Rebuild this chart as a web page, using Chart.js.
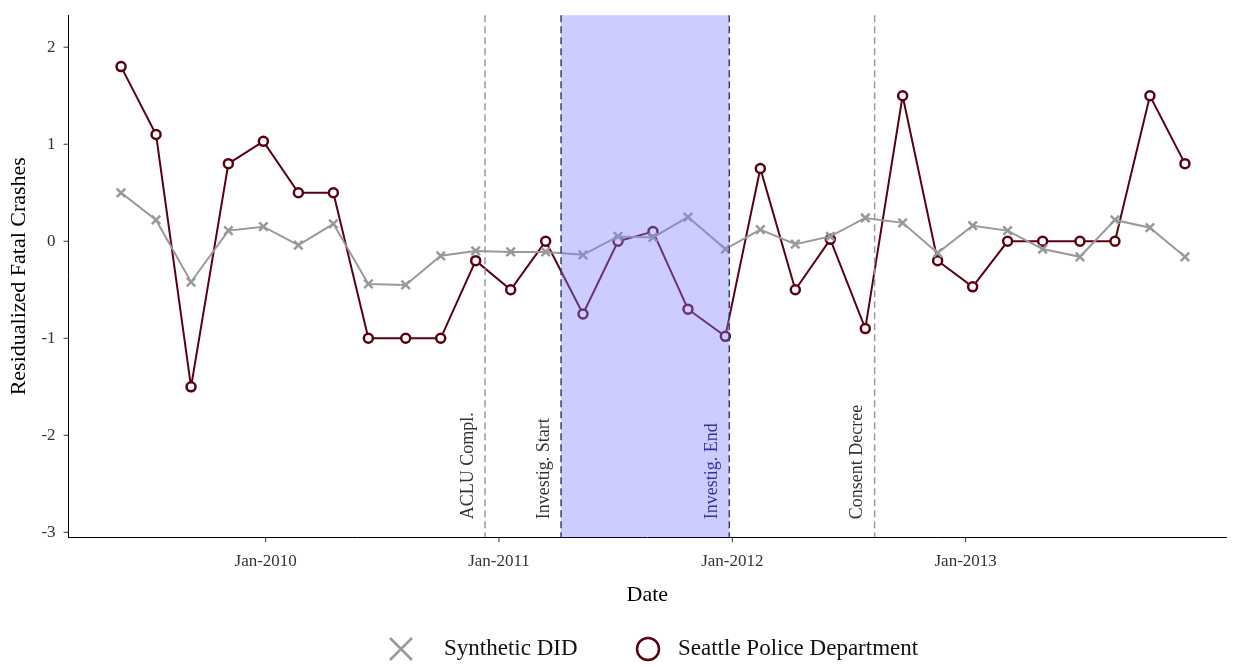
<!DOCTYPE html>
<html><head><meta charset="utf-8">
<script src="https://cdn.jsdelivr.net/npm/chart.js@4/dist/chart.umd.min.js"></script>
<style>html,body{margin:0;background:#fff}#wrap{width:1238px;height:668px}</style>
</head><body><div id="wrap"><canvas id="c"></canvas></div>
<script>
// Dates as decimal years
const dates = [2009.38, 2009.53, 2009.68, 2009.84, 2009.99, 2010.14, 2010.29, 2010.44, 2010.60, 2010.75,
  2010.90, 2011.05, 2011.20, 2011.36, 2011.51, 2011.66, 2011.81, 2011.97, 2012.12, 2012.27,
  2012.42, 2012.57, 2012.73, 2012.88, 2013.03, 2013.18, 2013.33, 2013.49, 2013.64, 2013.79, 2013.94];
const seattle = [1.8, 1.1, -1.5, 0.8, 1.03, 0.5, 0.5, -1, -1, -1,
  -0.2, -0.5, 0, -0.75, 0, 0.1, -0.7, -0.98, 0.75, -0.5,
  0.02, -0.9, 1.5, -0.2, -0.47, 0, 0, 0, 0, 1.5, 0.8];
const synthetic = [0.5, 0.22, -0.42, 0.11, 0.15, -0.04, 0.18, -0.44, -0.45, -0.15,
  -0.1, -0.11, -0.11, -0.14, 0.05, 0.04, 0.25, -0.08, 0.12, -0.03,
  0.05, 0.24, 0.19, -0.12, 0.16, 0.11, -0.08, -0.16, 0.22, 0.14, -0.16];
const events = [
  { x: 2010.94, label: 'ACLU Compl.' },
  { x: 2011.266, label: 'Investig. Start' },
  { x: 2011.987, label: 'Investig. End' },
  { x: 2012.61, label: 'Consent Decree' }
];
const xTicks = [2010, 2011, 2012, 2013];
const FONT = '"Liberation Serif", "DejaVu Serif", serif';

const eventsPlugin = {
  id: 'events',
  afterDatasetsDraw(chart) {
    const ctx = chart.ctx, xs = chart.scales.x, a = chart.chartArea;
    const s = xs.getPixelForValue(events[1].x), e = xs.getPixelForValue(events[2].x);
    ctx.save();
    ctx.fillStyle = 'rgba(127,127,255,0.4)';
    ctx.fillRect(s, a.top, e - s, a.bottom - a.top);
    events.forEach((ev, i) => {
      const px = xs.getPixelForValue(ev.x);
      const inv = i === 1 || i === 2;
      ctx.strokeStyle = inv ? '#3a3a6e' : '#9a9a9a';
      ctx.lineWidth = 1.5;
      ctx.setLineDash([7, 4]);
      ctx.beginPath(); ctx.moveTo(px, a.top); ctx.lineTo(px, a.bottom); ctx.stroke();
      ctx.setLineDash([]);
      ctx.save();
      ctx.translate(px - 8, a.bottom - 18);
      ctx.rotate(-Math.PI / 2);
      ctx.fillStyle = i === 2 ? '#333399' : '#333';
      ctx.font = '18px ' + FONT;
      ctx.textAlign = 'left';
      ctx.textBaseline = 'bottom';
      ctx.fillText(ev.label, 0, 0);
      ctx.restore();
    });
    // tick marks
    ctx.strokeStyle = '#333'; ctx.lineWidth = 1;
    xTicks.forEach(v => {
      const px = xs.getPixelForValue(v);
      ctx.beginPath(); ctx.moveTo(px, a.bottom); ctx.lineTo(px, a.bottom + 5); ctx.stroke();
    });
    [-3, -2, -1, 0, 1, 2].forEach(v => {
      const py = chart.scales.y.getPixelForValue(v);
      ctx.beginPath(); ctx.moveTo(a.left, py); ctx.lineTo(a.left - 5, py); ctx.stroke();
    });
    ctx.restore();
  },
  afterDraw(chart) {
    const ctx = chart.ctx;
    ctx.save();
    const y = 649;
    ctx.strokeStyle = '#999'; ctx.lineWidth = 2.5;
    ctx.beginPath(); ctx.moveTo(390, y - 11); ctx.lineTo(412, y + 11);
    ctx.moveTo(412, y - 11); ctx.lineTo(390, y + 11); ctx.stroke();
    ctx.strokeStyle = '#5a0012';
    ctx.beginPath(); ctx.arc(648, y, 11, 0, Math.PI * 2); ctx.stroke();
    ctx.fillStyle = '#111'; ctx.font = '23px ' + FONT; ctx.textBaseline = 'middle';
    ctx.fillText('Synthetic DID', 444, y);
    ctx.fillText('Seattle Police Department', 678, y);
    ctx.restore();
  }
};

new Chart(document.getElementById('c'), {
  type: 'line',
  data: {
    datasets: [
      { label: 'Synthetic DID', data: dates.map((d, i) => ({ x: d, y: synthetic[i] })),
        borderColor: '#999', borderWidth: 2, pointStyle: 'crossRot', pointRadius: 6,
        pointBorderColor: '#999', pointBorderWidth: 2.5, tension: 0 },
      { label: 'Seattle Police Department', data: dates.map((d, i) => ({ x: d, y: seattle[i] })),
        borderColor: '#5a0012', borderWidth: 2, pointStyle: 'circle', pointRadius: 4.5,
        pointBackgroundColor: '#fff', pointBorderColor: '#5a0012', pointBorderWidth: 2.5, tension: 0 }
    ]
  },
  options: {
    responsive: true, maintainAspectRatio: false, animation: false,
    layout: { padding: { left: 2, right: 12, top: 2, bottom: 56 } },
    plugins: { legend: { display: false }, tooltip: { enabled: false } },
    scales: {
      x: {
        type: 'linear', min: 2009.155, max: 2014.116,
        afterBuildTicks: s => { s.ticks = xTicks.map(v => ({ value: v })); },
        grid: { display: false },
        border: { color: '#000', width: 1 },
        ticks: { color: '#333', font: { family: FONT, size: 17 }, callback: v => 'Jan-' + v, maxRotation: 0, padding: 6 },
        title: { display: true, text: 'Date', color: '#000', font: { family: FONT, size: 22 } }
      },
      y: {
        min: -3.05, max: 2.33,
        afterBuildTicks: s => { s.ticks = [-3, -2, -1, 0, 1, 2].map(v => ({ value: v })); },
        grid: { display: false },
        border: { color: '#000', width: 1 },
        ticks: { color: '#333', font: { family: FONT, size: 17 }, padding: 5 },
        title: { display: true, text: 'Residualized Fatal Crashes', color: '#000', font: { family: FONT, size: 22 } }
      }
    }
  },
  plugins: [eventsPlugin]
});
</script></body></html>
